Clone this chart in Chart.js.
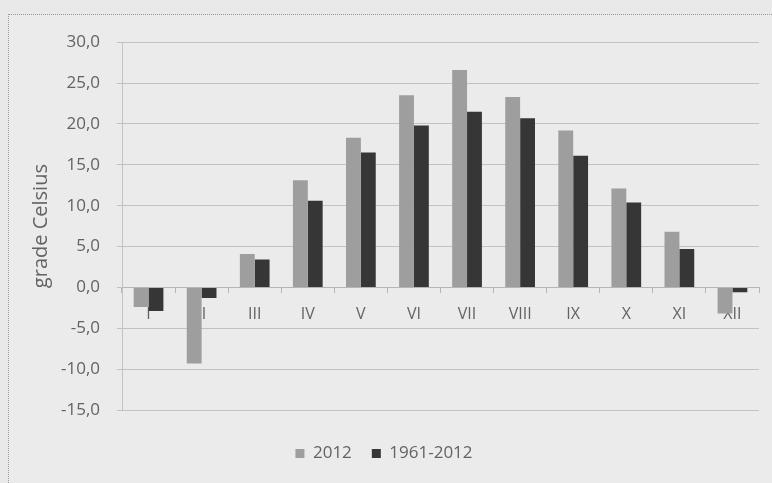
<!DOCTYPE html>
<html>
<head>
<meta charset="utf-8">
<script src="https://cdn.jsdelivr.net/npm/chart.js@4/dist/chart.umd.min.js"></script>
<style>
    html, body { margin: 0; padding: 0; background: #e9e9e9; overflow: hidden; }
    #frame {
        position: absolute; left: 8px; top: 14px;
        width: 770px; height: 475px;
        border: 1px dotted #9a9a9a;
        background: #ebebeb;
    }
    #myChart { display: block; }
</style>
</head>
<body>
<div id="frame">
    <canvas id="myChart" width="763" height="468" style="width:763px;height:468px"></canvas>
</div>
<script>
const months = ["I", "II", "III", "IV", "V", "VI", "VII", "VIII", "IX", "X", "XI", "XII"];
const temp2012 = [-2.4, -9.3, 4.1, 13.1, 18.3, 23.5, 26.6, 23.3, 19.2, 12.1, 6.8, -3.2];
const tempNormal = [-2.9, -1.3, 3.4, 10.6, 16.5, 19.8, 21.5, 20.7, 16.1, 10.4, 4.7, -0.6];
const seriesNames = ["2012", "1961-2012"];

const textColor = "#636363";
const fontFamily = "'Open Sans', Lato, sans-serif";

function formatTick(value)
{
    return value.toFixed(1).replace(".", ",");
}

const chart = new Chart(document.getElementById("myChart"), {
    type: 'bar',
    data: {
        labels: months,
        datasets: [
            {
                label: seriesNames[0],
                data: temp2012,
                backgroundColor: "#9e9e9e",
                categoryPercentage: 0.56,
                barPercentage: 1.0
            },
            {
                label: seriesNames[1],
                data: tempNormal,
                backgroundColor: "#363636",
                categoryPercentage: 0.56,
                barPercentage: 1.0
            }
        ]
    },
    options: {
        responsive: false,
        animation: false,
        layout: {
            padding: { left: 0, right: 13, top: 20, bottom: 11 }
        },
        plugins: {
            tooltip: { enabled: false },
            legend: {
                position: 'bottom',
                labels: {
                    boxWidth: 9,
                    boxHeight: 9,
                    padding: 20,
                    color: textColor,
                    font: { family: fontFamily, size: 17 }
                }
            }
        },
        scales: {
            x: {
                position: { y: 0 },
                offset: true,
                grid: {
                    display: true,
                    drawOnChartArea: false,
                    offset: true,
                    tickLength: 5,
                    color: "#b5b5b5"
                },
                border: { display: true, color: "#b5b5b5" },
                ticks: {
                    padding: 12,
                    color: textColor,
                    font: { family: fontFamily, size: 16 }
                }
            },
            gap: {
                type: 'category',
                labels: months,
                position: 'bottom',
                grid: { display: false },
                border: { display: false },
                ticks: { display: false },
                afterFit: function (scale)
                {
                    scale.height = 15;
                }
            },
            y: {
                min: -15,
                max: 30,
                ticks: {
                    stepSize: 5,
                    padding: 17,
                    color: textColor,
                    font: { family: fontFamily, size: 17 },
                    callback: function (value)
                    {
                        return formatTick(value);
                    }
                },
                grid: {
                    color: "#c2c2c2",
                    tickLength: 5
                },
                border: { display: true, color: "#c2c2c2" },
                title: {
                    display: true,
                    text: 'grade Celsius',
                    color: textColor,
                    padding: { top: 20, bottom: 0 },
                    font: { family: fontFamily, size: 20 }
                },
                afterFit: function (scale)
                {
                    scale.width = 113;
                }
            }
        }
    }
});
</script>
</body>
</html>
